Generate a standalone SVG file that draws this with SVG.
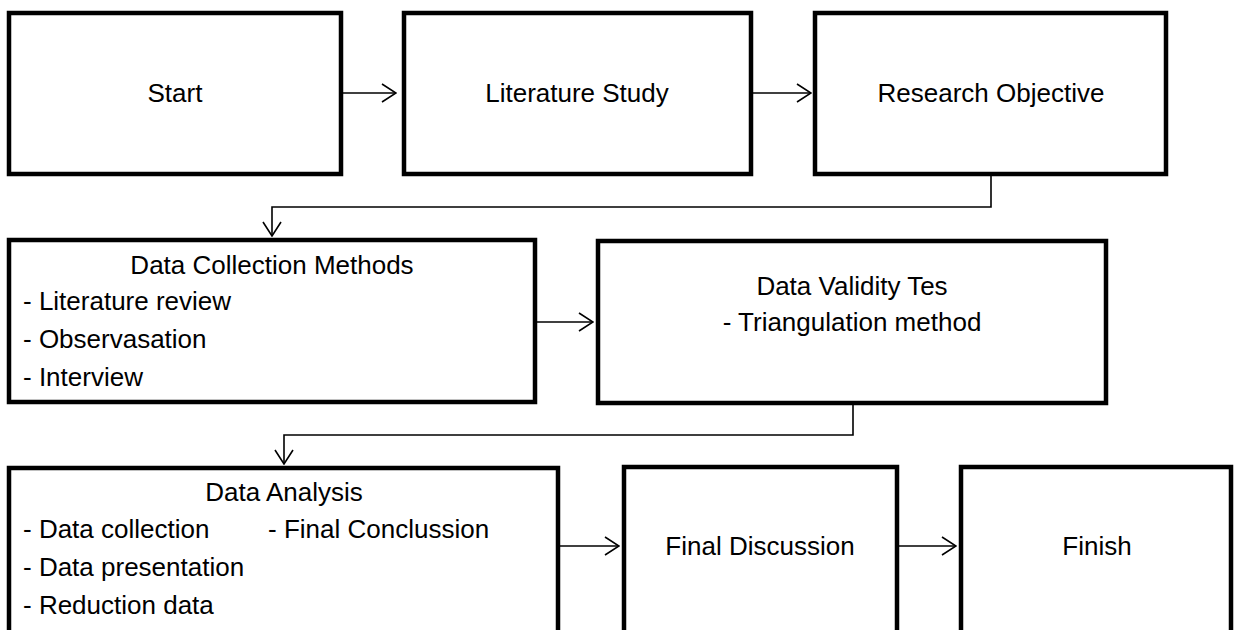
<svg xmlns="http://www.w3.org/2000/svg" width="1234" height="630" viewBox="0 0 1234 630">
<style>
.box{fill:#fff;stroke:#000;stroke-width:4.5}
.t{font-family:"Liberation Sans",Arial,sans-serif;font-size:26px;fill:#000}
.c{text-anchor:middle}
.con{fill:none;stroke:#000;stroke-width:1.6}
</style>
<defs>
<marker id="ah" viewBox="0 0 16 20" refX="15" refY="10" markerWidth="16" markerHeight="20" markerUnits="userSpaceOnUse" orient="auto">
<path d="M1,1 L15,10 L1,19" fill="none" stroke="#000" stroke-width="1.6"/>
</marker>
</defs>
<rect width="1234" height="630" fill="#fff"/>
<g id="start"><rect class="box" x="9" y="13" width="332" height="161"/><text class="t c" x="175" y="102">Start</text></g>
<g id="literature-study"><rect class="box" x="404" y="13" width="347" height="161"/><text class="t c" x="577" y="102">Literature Study</text></g>
<g id="research-objective"><rect class="box" x="815" y="13" width="351" height="161"/><text class="t c" x="991" y="102">Research Objective</text></g>
<g id="data-collection"><rect class="box" x="9" y="240" width="526" height="162"/>
<text class="t c" x="272" y="274">Data Collection Methods</text>
<text class="t" x="23" y="310">- Literature review</text>
<text class="t" x="23" y="348">- Observasation</text>
<text class="t" x="23" y="386">- Interview</text></g>
<g id="data-validity"><rect class="box" x="598" y="241" width="508" height="162"/>
<text class="t c" x="852" y="295">Data Validity Tes</text>
<text class="t c" x="852" y="331">- Triangulation method</text></g>
<g id="data-analysis"><rect class="box" x="9" y="468" width="549" height="180"/>
<text class="t c" x="284" y="501">Data Analysis</text>
<text class="t" x="23" y="538">- Data collection</text>
<text class="t" x="268" y="538">- Final Conclussion</text>
<text class="t" x="23" y="576">- Data presentation</text>
<text class="t" x="23" y="614">- Reduction data</text></g>
<g id="final-discussion"><rect class="box" x="624" y="467" width="273" height="180"/><text class="t c" x="760" y="555">Final Discussion</text></g>
<g id="finish"><rect class="box" x="961" y="467" width="270" height="180"/><text class="t c" x="1097" y="555">Finish</text></g>
<g id="connectors">
<path class="con" d="M343,93 H396" marker-end="url(#ah)"/>
<path class="con" d="M753,93 H811" marker-end="url(#ah)"/>
<path class="con" d="M991,176 V207 H272 V236" marker-end="url(#ah)"/>
<path class="con" d="M537,322 H593" marker-end="url(#ah)"/>
<path class="con" d="M853,405 V435 H284 V464" marker-end="url(#ah)"/>
<path class="con" d="M560,546 H619" marker-end="url(#ah)"/>
<path class="con" d="M899,546 H956" marker-end="url(#ah)"/>
</g>
</svg>
